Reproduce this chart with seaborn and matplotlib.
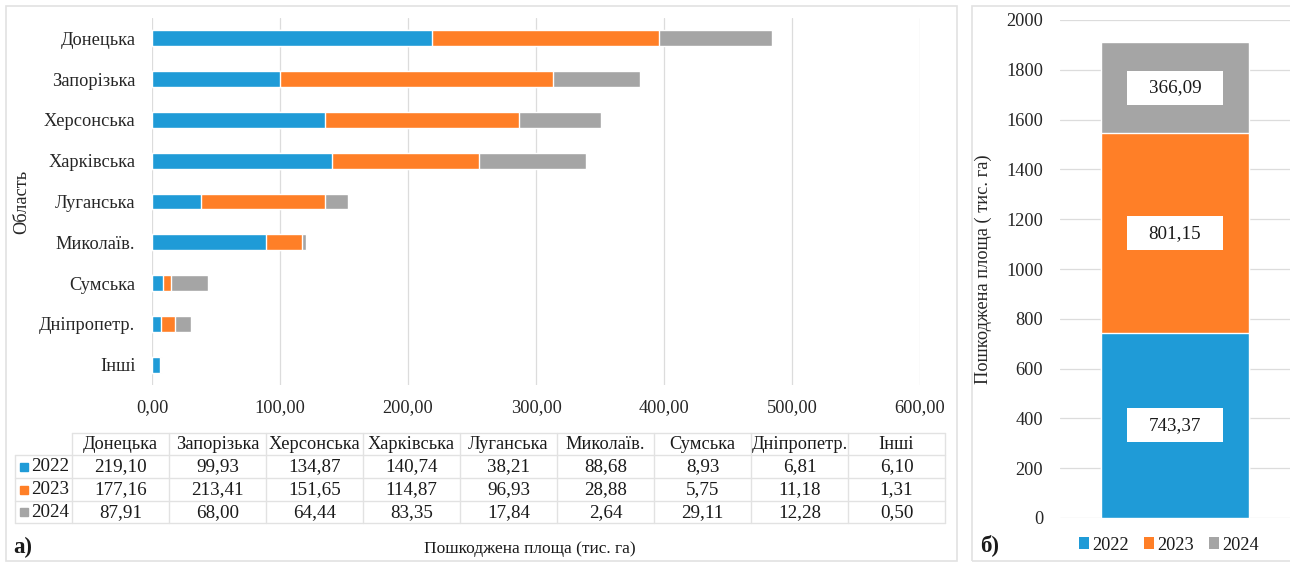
import numpy as np
import pandas as pd
import matplotlib
matplotlib.use("Agg")
import matplotlib.pyplot as plt
from matplotlib.patches import Rectangle, Patch
from matplotlib.lines import Line2D
import seaborn as sns

# ---- data -------------------------------------------------------------
regions = ["Донецька", "Запорізька", "Херсонська", "Харківська", "Луганська",
           "Миколаїв.", "Сумська", "Дніпропетр.", "Інші"]
years = ["2022", "2023", "2024"]
area_2022 = [219.10, 99.93, 134.87, 140.74, 38.21, 88.68, 8.93, 6.81, 6.10]
area_2023 = [177.16, 213.41, 151.65, 114.87, 96.93, 28.88, 5.75, 11.18, 1.31]
area_2024 = [87.91, 68.00, 64.44, 83.35, 17.84, 2.64, 29.11, 12.28, 0.50]
year_totals = [743.37, 801.15, 366.09]
area_ticks = [0, 100, 200, 300, 400, 500, 600]
total_ticks = list(range(0, 2001, 200))

# ---- style ------------------------------------------------------------
year_colors = ["#1F9BD7", "#FF7F27", "#A5A5A5"]
grid_color = "#DCDCDC"
line_color = "#E2E2E2"
text_color = "#1A1A1A"
FS = 13.2

sns.set_theme(style="white")
plt.rcParams["font.family"] = ["Liberation Serif", "DejaVu Serif"]
plt.rcParams["text.color"] = text_color

W, H = 1290, 562
fig = plt.figure(figsize=(W / 100, H / 100), dpi=100)
fig.patch.set_facecolor("white")


def fx(px):
    return px / W


def fy(py):
    return 1 - py / H


def fmt(v):
    return f"{v:.2f}".replace(".", ",")


# panel frames
fig.add_artist(Rectangle((fx(6), fy(561)), fx(951), 555 / H, transform=fig.transFigure,
                         fill=False, edgecolor=line_color, lw=1.2))
fig.add_artist(Rectangle((fx(972), fy(561)), fx(330), 555 / H, transform=fig.transFigure,
                         fill=False, edgecolor=line_color, lw=1.2))

# ---- left panel: stacked horizontal bars by region --------------------
ax1 = fig.add_axes([fx(152), fy(385), fx(920 - 152), (385 - 18) / H])
df = pd.DataFrame({
    "region": regions,
    "2022": area_2022,
    "2023": area_2023,
    "2024": area_2024,
})
df["upto_2022"] = df["2022"]
df["upto_2023"] = df["2022"] + df["2023"]
df["upto_2024"] = df["upto_2023"] + df["2024"]

for col, color in zip(["upto_2024", "upto_2023", "upto_2022"], year_colors[::-1]):
    sns.barplot(data=df, x=col, y="region", orient="h", color=color, saturation=1,
                width=0.39, errorbar=None, ax=ax1, zorder=3)

ax1.set_xlim(0, 600)
ax1.set_xticks(area_ticks)
ax1.set_xticklabels([fmt(t) for t in area_ticks], fontsize=FS)
ax1.tick_params(axis="x", length=0, pad=10)
ax1.tick_params(axis="y", length=0, pad=12, labelsize=FS)
ax1.set_xlabel("")
ax1.set_ylabel("Область", fontsize=FS)
ax1.yaxis.set_label_coords((30 - 152) / (920 - 152), 0.5)
ax1.grid(axis="x", color=grid_color, lw=0.9)
ax1.grid(axis="y", visible=False)
ax1.set_axisbelow(True)
for s in ax1.spines.values():
    s.set_visible(False)

# ---- data table under the left panel ----------------------------------
axt = fig.add_axes([0, fy(530), fx(958), (530 - 425) / H])
axt.set_xlim(0, 958)
axt.set_ylim(530, 425)
axt.axis("off")

col_left, col_w = 72, 97.0
row_lines = [433, 455, 478, 501, 523]
right_edge = col_left + col_w * len(regions)
axt.add_line(Line2D([col_left, right_edge], [row_lines[0]] * 2, color=line_color, lw=1))
for yl in row_lines[1:]:
    axt.add_line(Line2D([15, right_edge], [yl, yl], color=line_color, lw=1))
axt.add_line(Line2D([15, 15], [row_lines[1], row_lines[-1]], color=line_color, lw=1))
for k in range(len(regions) + 1):
    xv = col_left + k * col_w
    axt.add_line(Line2D([xv, xv], [row_lines[0], row_lines[-1]], color=line_color, lw=1))

row_mid = [(row_lines[i] + row_lines[i + 1]) / 2 + 0.5 for i in range(4)]
for k, name in enumerate(regions):
    axt.text(col_left + (k + 0.5) * col_w, row_mid[0], name, ha="center", va="center",
             fontsize=FS)
for r, (yr, vals, color) in enumerate(zip(years, [area_2022, area_2023, area_2024],
                                           year_colors)):
    ym = row_mid[r + 1]
    axt.plot([24.5], [ym], marker="s", ms=5.5, color=color, lw=0)
    axt.text(31, ym, yr, ha="left", va="center", fontsize=FS + 0.5)
    for k, v in enumerate(vals):
        axt.text(col_left + (k + 0.5) * col_w, ym, fmt(v), ha="center", va="center",
                 fontsize=FS + 0.5)

fig.text(fx(13), fy(547), "а)", fontsize=16.5, fontweight="bold", ha="left", va="center")
fig.text(fx(530), fy(549), "Пошкоджена площа (тис. га)", fontsize=FS - 0.7,
         ha="center", va="center")

# ---- right panel: totals per year -------------------------------------
cum = np.cumsum(year_totals)
dft = pd.DataFrame({"group": ["Усього"], "upto_2022": [cum[0]],
                    "upto_2023": [cum[1]], "upto_2024": [cum[2]]})

ax2 = fig.add_axes([fx(1060), fy(518), fx(1290 - 1060), (518 - 20) / H])
for col, color in zip(["upto_2024", "upto_2023", "upto_2022"], year_colors[::-1]):
    sns.barplot(data=dft, x="group", y=col, color=color, saturation=1, width=0.64,
                errorbar=None, ax=ax2, zorder=3)

ax2.set_xlim(-0.5, 0.5)
ax2.set_ylim(0, 2000)
ax2.set_yticks(total_ticks)
ax2.set_yticklabels([str(t) for t in total_ticks], fontsize=FS)
ax2.set_xticks([])
ax2.set_xlabel("")
ax2.tick_params(axis="y", length=0, pad=12)
ax2.set_ylabel("Пошкоджена площа ( тис. га)", fontsize=FS)
ax2.yaxis.set_label_coords((992 - 1060) / 230, 0.5)
ax2.grid(axis="y", color=grid_color, lw=0.9)
ax2.grid(axis="x", visible=False)
ax2.set_axisbelow(True)
for s in ax2.spines.values():
    s.set_visible(False)

# value labels in white boxes at segment centres
box_w = 96 / 230
box_h = 34 * 2000 / 498
bottoms = np.concatenate([[0], cum[:-1]])
for b, v in zip(bottoms, year_totals):
    yc = b + v / 2
    ax2.add_patch(Rectangle((-box_w / 2, yc - box_h / 2), box_w, box_h,
                            facecolor="white", edgecolor="none", zorder=4))
    ax2.text(0, yc, fmt(v), ha="center", va="center", fontsize=FS + 0.5, zorder=5)

handles = [Patch(facecolor=c, edgecolor="none") for c in year_colors]
fig.legend(handles, years, loc="center", bbox_to_anchor=(fx(1169), fy(545)),
           ncol=3, frameon=False, fontsize=FS, handlelength=0.55, handleheight=0.55,
           handletextpad=0.2, columnspacing=0.8)
fig.text(fx(980), fy(545), "б)", fontsize=16.5, fontweight="bold", ha="left", va="center")

fig.savefig("out.png", dpi=100, facecolor="white")
